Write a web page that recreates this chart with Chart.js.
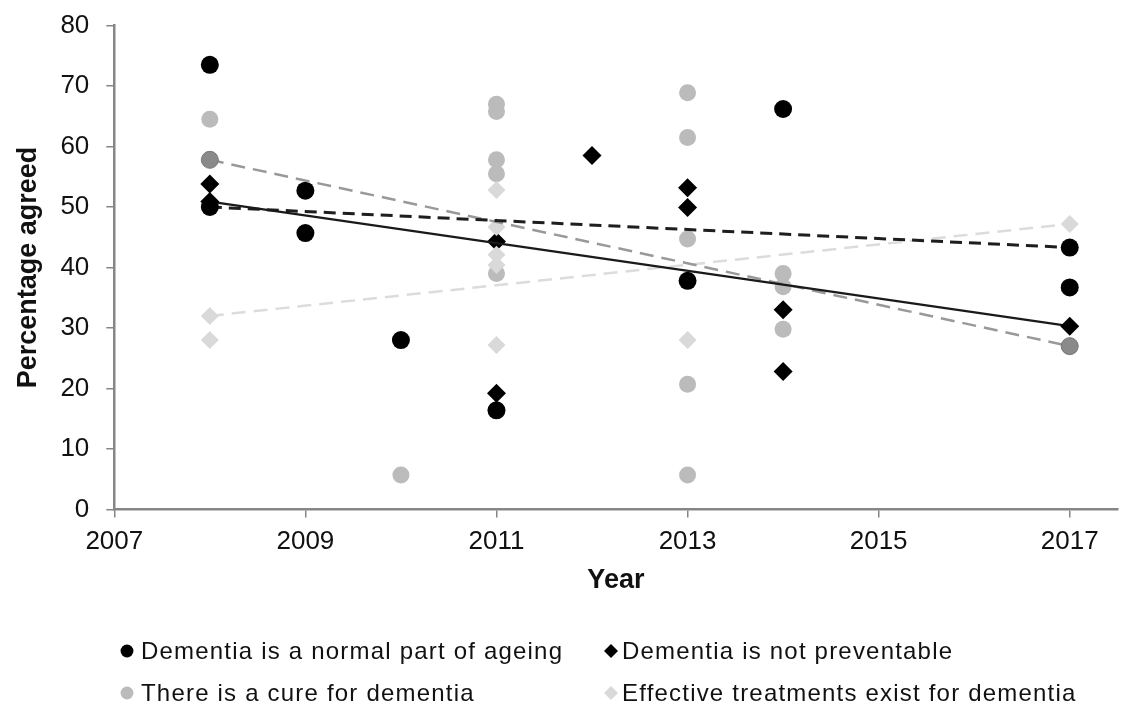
<!DOCTYPE html>
<html>
<head>
<meta charset="utf-8">
<script src="https://cdn.jsdelivr.net/npm/chart.js@4.4.1/dist/chart.umd.min.js"></script>
<style>
  html, body { margin: 0; padding: 0; background: #fff; }
  #wrap { width: 1127px; height: 707px; position: relative; }
</style>
</head>
<body>
<div id="wrap"><canvas id="chart" width="1127" height="707"></canvas></div>
<script>
// Survey results: percentage of respondents agreeing with each statement, by survey year
const ageingYears   = [2008, 2009, 2009, 2010, 2011, 2013, 2014, 2017];
const ageingValues  = [73.5, 52.7, 45.7, 28.0, 16.4, 37.8, 66.2, 36.7];

const preventYears  = [2008, 2011, 2011, 2012, 2013, 2013, 2014, 2014];
const preventValues = [53.8, 44.3, 19.2, 58.5, 53.2, 49.9, 33.0, 22.8];

const cureYears     = [2008, 2010, 2011, 2011, 2011, 2011, 2011, 2013, 2013, 2013, 2013, 2013, 2014, 2014, 2014];
const cureValues    = [64.5, 5.7, 67.0, 65.8, 57.8, 55.5, 39.0, 68.9, 61.5, 44.7, 20.7, 5.7, 39.0, 36.8, 29.8];

const treatYears    = [2008, 2011, 2011, 2011, 2011, 2011, 2013];
const treatValues   = [28.0, 52.8, 46.7, 42.1, 40.4, 27.2, 28.0];

// Linear trend lines, first and last survey year
const trendYears    = [2008, 2017];
const ageingTrend   = [50.0, 43.3];
const preventTrend  = [50.9, 30.3];
const cureTrend     = [57.8, 27.0];
const treatTrend    = [32.0, 47.2];

const xTickValues   = [2007, 2009, 2011, 2013, 2015, 2017];

const seriesLabels  = [
  'Dementia is a normal part of ageing',
  'Dementia is not preventable',
  'There is a cure for dementia',
  'Effective treatments exist for dementia'
];

const toPoints = (xs, ys) => xs.map((x, i) => ({ x: x, y: ys[i] }));

const FONT = '"Liberation Sans", Arial, Helvetica, sans-serif';
const AXIS_GREY = '#868686';

// Two-column legend drawn under the plot
const gridLegend = {
  id: 'gridLegend',
  afterDraw(chart, args, opts) {
    const ctx = chart.ctx;
    ctx.save();
    ctx.font = opts.font;
    if ('letterSpacing' in ctx) ctx.letterSpacing = opts.letterSpacing;
    ctx.textBaseline = 'middle';
    ctx.textAlign = 'left';
    opts.items.forEach((idx, i) => {
      const ds = chart.data.datasets[idx];
      const col = i % 2, row = Math.floor(i / 2);
      const mx = opts.markerX[col], my = opts.rowY[row];
      const r = opts.markerRadius;
      ctx.fillStyle = ds.backgroundColor;
      ctx.beginPath();
      if (ds.pointStyle === 'rectRot') {
        ctx.moveTo(mx - r, my);
        ctx.lineTo(mx, my - r);
        ctx.lineTo(mx + r, my);
        ctx.lineTo(mx, my + r);
        ctx.closePath();
      } else {
        ctx.arc(mx, my, r * 0.92, 0, Math.PI * 2);
      }
      ctx.fill();
      ctx.fillStyle = opts.color;
      ctx.fillText(ds.label, opts.textX[col], my + 1);
    });
    ctx.restore();
  }
};

new Chart(document.getElementById('chart'), {
  type: 'scatter',
  data: {
    datasets: [
      {
        label: seriesLabels[0],
        data: toPoints(ageingYears, ageingValues),
        pointStyle: 'circle', pointRadius: 9, pointBorderWidth: 0,
        backgroundColor: '#000', borderColor: '#000', order: 9
      },
      {
        label: seriesLabels[1],
        data: toPoints(preventYears, preventValues),
        pointStyle: 'rectRot', pointRadius: 9.5, pointBorderWidth: 0,
        backgroundColor: '#000', borderColor: '#000', order: 8
      },
      {
        label: seriesLabels[2],
        data: toPoints(cureYears, cureValues),
        pointStyle: 'circle', pointRadius: 8.5, pointBorderWidth: 0,
        backgroundColor: '#bbbbbb', borderColor: '#bbbbbb', order: 7
      },
      {
        label: seriesLabels[3],
        data: toPoints(treatYears, treatValues),
        pointStyle: 'rectRot', pointRadius: 9, pointBorderWidth: 0,
        backgroundColor: '#d9d9d9', borderColor: '#d9d9d9', order: 6
      },
      {
        label: 'trend-treatments',
        data: toPoints(trendYears, treatTrend),
        showLine: true, borderColor: '#dcdcdc', borderWidth: 2.5, borderDash: [14, 8],
        pointStyle: 'rectRot', pointRadius: 9, pointBorderWidth: 0,
        backgroundColor: '#d9d9d9', order: 4
      },
      {
        label: 'trend-cure',
        data: toPoints(trendYears, cureTrend),
        showLine: true, borderColor: '#999999', borderWidth: 2.5, borderDash: [14, 8],
        pointStyle: 'circle', pointRadius: 8.5, pointBorderWidth: 1,
        pointBorderColor: '#777777', backgroundColor: '#8a8a8a', order: 3
      },
      {
        label: 'trend-ageing',
        data: toPoints(trendYears, ageingTrend),
        showLine: true, borderColor: '#1e1e1e', borderWidth: 3, borderDash: [12, 7],
        pointStyle: 'circle', pointRadius: 9, pointBorderWidth: 0,
        backgroundColor: '#000', order: 2
      },
      {
        label: 'trend-prevent',
        data: toPoints(trendYears, preventTrend),
        showLine: true, borderColor: '#1a1a1a', borderWidth: 2.2,
        pointStyle: 'rectRot', pointRadius: 9.5, pointBorderWidth: 0,
        backgroundColor: '#000', order: 1
      }
    ]
  },
  options: {
    responsive: false,
    animation: false,
    events: [],
    layout: { padding: { left: 0, right: 5, top: 25.5, bottom: 109.8 } },
    plugins: {
      legend: { display: false },
      tooltip: { enabled: false },
      gridLegend: {
        items: [0, 1, 2, 3],
        markerX: [127, 611],
        textX: [141, 622],
        rowY: [651, 693],
        markerRadius: 7,
        font: '24px ' + FONT,
        letterSpacing: '1.2px',
        color: '#111'
      }
    },
    scales: {
      x: {
        type: 'linear',
        min: 2007, max: 2017.5,
        afterBuildTicks: s => { s.ticks = xTickValues.map(v => ({ value: v })); },
        afterFit: s => { s.height = 87.7; },
        border: { display: true, color: AXIS_GREY, width: 2.5 },
        grid: { drawOnChartArea: false, drawTicks: true, tickLength: 8, color: AXIS_GREY, lineWidth: 1.5 },
        ticks: {
          padding: 9,
          color: '#111',
          font: { family: FONT, size: 26 },
          maxRotation: 0,
          callback: v => String(v)
        },
        title: {
          display: true, text: 'Year', color: '#111',
          font: { family: FONT, size: 27, weight: 'bold' },
          padding: { top: 0, bottom: 0 }
        }
      },
      y: {
        type: 'linear',
        min: 0, max: 80,
        afterFit: s => { s.width = 114.3; s.paddingTop = 0; s.paddingBottom = 0; },
        border: { display: true, color: AXIS_GREY, width: 2.5 },
        grid: { drawOnChartArea: false, drawTicks: true, tickLength: 8, color: AXIS_GREY, lineWidth: 1.5 },
        ticks: {
          stepSize: 10,
          padding: 17,
          color: '#111',
          font: { family: FONT, size: 26 }
        },
        title: {
          display: true, text: 'Percentage agreed', color: '#111',
          font: { family: FONT, size: 27, weight: 'bold' },
          padding: { top: 12, bottom: 0 }
        }
      }
    }
  },
  plugins: [gridLegend]
});
</script>
</body>
</html>
